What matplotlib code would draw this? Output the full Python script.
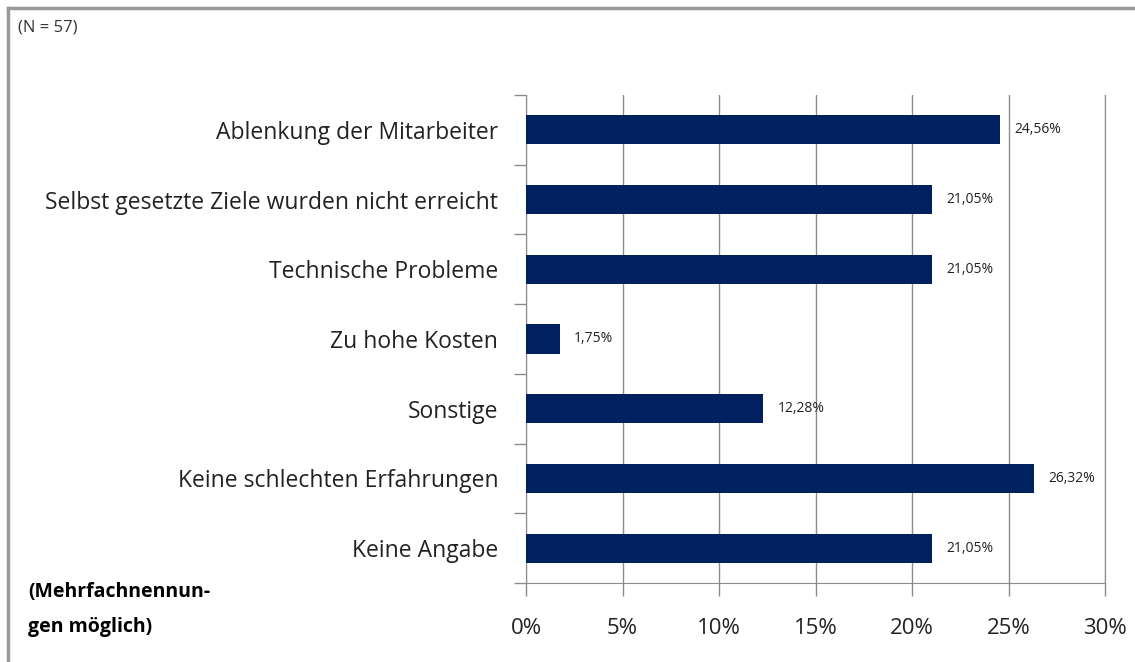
import matplotlib.pyplot as plt
from matplotlib.lines import Line2D
import numpy as np

plt.rcParams['font.family'] = ['Open Sans', 'DejaVu Sans']

kategorien = ["Ablenkung der Mitarbeiter",
              "Selbst gesetzte Ziele wurden nicht erreicht",
              "Technische Probleme",
              "Zu hohe Kosten",
              "Sonstige",
              "Keine schlechten Erfahrungen",
              "Keine Angabe"]
werte = [24.56, 21.05, 21.05, 1.75, 12.28, 26.32, 21.05]
x_ticks = [0, 5, 10, 15, 20, 25, 30]

farbe = '#002060'
grau = '#8c8c8c'

fig = plt.figure(figsize=(11.35, 6.62), dpi=100)
ax = fig.add_axes([526 / 1135, 1 - 583 / 662, (1105 - 526) / 1135, (583 - 95) / 662])

y = np.arange(len(kategorien))
ax.barh(y, werte, height=0.42, color=farbe, zorder=3)
for yi, w in zip(y, werte):
    ax.text(w + 0.75, yi, ("%.2f" % w).replace('.', ',') + '%', va='center', ha='left',
            fontsize=10, color='#222222', zorder=4)

ax.set_ylim(len(kategorien) - 0.5, -0.5)
ax.set_xlim(0, 30)
ax.set_xticks(x_ticks)
ax.set_xticklabels([str(t) + '%' for t in x_ticks], fontsize=16, color='#222222')
ax.set_yticks(y)
ax.set_yticklabels(kategorien, fontsize=16.5, color='#222222')
ax.tick_params(axis='y', which='major', length=0, pad=20)
ax.set_yticks(np.arange(-0.5, len(kategorien)), minor=True)
ax.tick_params(axis='y', which='minor', length=9, color=grau, width=1)
ax.tick_params(axis='x', length=9, color=grau, width=1, pad=16)
ax.grid(axis='x', color=grau, linewidth=1, zorder=0)

ax.spines['top'].set_visible(False)
for s in ['left', 'bottom', 'right']:
    ax.spines[s].set_color(grau)

fig.text(18 / 1135, 1 - 27 / 662, "(N = 57)", fontsize=12, color='#333333', va='center')
fig.text(28 / 1135, 1 - 592 / 662, "(Mehrfachnennun-", fontsize=14, fontweight='bold', va='center')
fig.text(28 / 1135, 1 - 627 / 662, "gen möglich)", fontsize=14, fontweight='bold', va='center')

# Rahmen oben und links
fig.add_artist(Line2D([8 / 1135, 1], [1 - 8 / 662, 1 - 8 / 662], color='#999999', linewidth=2.5, transform=fig.transFigure))
fig.add_artist(Line2D([8 / 1135, 8 / 1135], [0, 1 - 8 / 662], color='#999999', linewidth=2.5, transform=fig.transFigure))

plt.savefig('out.png', dpi=100)
